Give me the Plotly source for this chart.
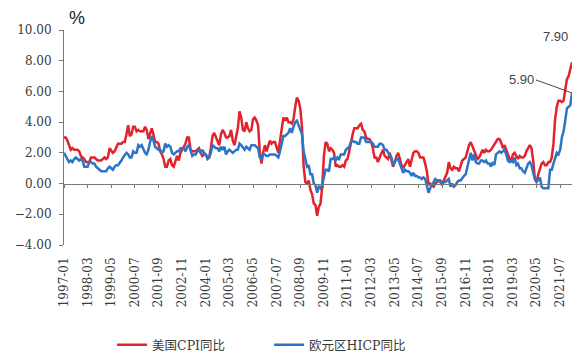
import plotly.graph_objects as go

us_cpi = [
    3.0, 3.0, 2.8, 2.5, 2.2, 2.3, 2.2, 2.2, 2.2, 2.1, 1.8, 1.7,
    1.6, 1.4, 1.4, 1.4, 1.7, 1.7, 1.7, 1.6, 1.5, 1.5, 1.5, 1.6,
    1.7, 1.6, 1.7, 2.3, 2.1, 2.0, 2.1, 2.3, 2.6, 2.6, 2.6, 2.7,
    2.7, 3.2, 3.8, 3.1, 3.2, 3.7, 3.7, 3.4, 3.5, 3.4, 3.4, 3.4,
    3.7, 3.5, 2.9, 3.3, 3.6, 3.2, 2.7, 2.7, 2.6, 2.1, 1.9, 1.6,
    1.1, 1.1, 1.5, 1.6, 1.2, 1.1, 1.5, 1.8, 1.5, 2.0, 2.2, 2.4,
    2.6, 3.0, 3.0, 2.2, 2.1, 2.1, 2.1, 2.2, 2.3, 2.0, 1.8, 1.9,
    1.9, 1.7, 1.7, 2.3, 3.1, 3.3, 3.0, 2.7, 2.5, 3.2, 3.5, 3.3,
    3.0, 3.0, 3.1, 3.5, 2.8, 2.5, 3.2, 3.6, 4.7, 4.3, 3.5, 3.4,
    4.0, 3.6, 3.4, 3.5, 4.2, 4.3, 4.1, 3.8, 2.1, 1.3, 2.0, 2.5,
    2.1, 2.4, 2.8, 2.6, 2.7, 2.7, 2.4, 2.0, 2.8, 3.5, 4.3, 4.1,
    4.3, 4.0, 4.0, 3.9, 4.2, 5.0, 5.6, 5.4, 4.9, 3.7, 1.1, 0.1,
    0.0, 0.2, -0.4, -0.7, -1.3, -1.4, -2.1, -1.5, -1.3, -0.2, 1.8, 2.7,
    2.6, 2.1, 2.3, 2.2, 2.0, 1.1, 1.2, 1.1, 1.1, 1.2, 1.1, 1.5,
    1.6, 2.1, 2.7, 3.2, 3.6, 3.6, 3.6, 3.8, 3.9, 3.5, 3.4, 3.0,
    2.9, 2.9, 2.7, 2.3, 1.7, 1.7, 1.4, 1.7, 2.0, 2.2, 1.8, 1.7,
    1.6, 2.0, 1.5, 1.1, 1.4, 1.8, 2.0, 1.5, 1.2, 1.0, 1.2, 1.5,
    1.6, 1.1, 1.5, 2.0, 2.1, 2.1, 2.0, 1.7, 1.7, 1.7, 1.3, 0.8,
    -0.1, 0.0, -0.1, -0.2, 0.0, 0.1, 0.2, 0.2, 0.0, 0.2, 0.5, 0.7,
    1.4, 1.0, 0.9, 1.1, 1.0, 1.0, 0.8, 1.1, 1.5, 1.6, 1.7, 2.1,
    2.5, 2.7, 2.4, 2.2, 1.9, 1.6, 1.7, 1.9, 2.2, 2.0, 2.2, 2.1,
    2.1, 2.2, 2.4, 2.5, 2.8, 2.9, 2.9, 2.7, 2.3, 2.5, 2.2, 1.9,
    1.6, 1.5, 1.9, 2.0, 1.8, 1.6, 1.8, 1.7, 1.7, 1.8, 2.1, 2.3,
    2.5, 2.3, 1.5, 0.3, 0.1, 0.6, 1.0, 1.3, 1.4, 1.2, 1.2, 1.4,
    1.4, 1.7, 2.6, 4.2, 5.0, 5.4, 5.4, 5.3, 5.4, 6.2, 6.8, 7.0,
    7.5, 7.9,
]

ez_hicp = [
    2.0, 1.8, 1.6, 1.4, 1.5, 1.4, 1.6, 1.7, 1.6, 1.5, 1.6, 1.5,
    1.1, 1.1, 1.1, 1.4, 1.4, 1.3, 1.3, 1.1, 1.0, 0.9, 0.8, 0.8,
    0.8, 0.8, 1.0, 1.1, 1.0, 0.9, 1.1, 1.2, 1.2, 1.4, 1.5, 1.7,
    1.9, 2.0, 1.9, 1.7, 1.7, 2.1, 2.0, 2.0, 2.5, 2.4, 2.5, 2.2,
    2.0, 1.9, 2.2, 2.7, 3.1, 2.8, 2.4, 2.3, 2.2, 2.2, 2.0, 2.1,
    2.6, 2.4, 2.5, 2.4, 2.0, 1.9, 2.0, 2.1, 2.1, 2.3, 2.3, 2.3,
    2.1, 2.4, 2.5, 2.1, 1.8, 1.9, 1.9, 2.1, 2.2, 2.0, 2.2, 2.0,
    1.9, 1.6, 1.7, 2.0, 2.5, 2.4, 2.3, 2.3, 2.1, 2.4, 2.2, 2.4,
    1.9, 2.1, 2.2, 2.1, 2.0, 2.1, 2.2, 2.2, 2.6, 2.5, 2.3, 2.2,
    2.4, 2.3, 2.2, 2.5, 2.5, 2.5, 2.4, 2.3, 1.7, 1.6, 1.9, 1.9,
    1.8, 1.8, 1.9, 1.9, 1.9, 1.9, 1.8, 1.7, 2.1, 2.6, 3.1, 3.1,
    3.2, 3.3, 3.6, 3.3, 3.7, 4.0, 4.1, 3.8, 3.6, 3.2, 2.1, 1.6,
    1.1, 1.2, 0.6, 0.6, 0.0, -0.1, -0.6, -0.2, -0.3, -0.1, 0.5, 0.9,
    0.9, 0.8, 1.6, 1.6, 1.7, 1.5, 1.7, 1.6, 1.9, 1.9, 1.9, 2.2,
    2.3, 2.4, 2.7, 2.8, 2.7, 2.7, 2.6, 2.6, 3.0, 3.0, 3.0, 2.7,
    2.7, 2.7, 2.7, 2.6, 2.4, 2.4, 2.4, 2.6, 2.6, 2.5, 2.2, 2.2,
    2.0, 1.8, 1.7, 1.2, 1.4, 1.6, 1.6, 1.3, 1.1, 0.7, 0.9, 0.8,
    0.8, 0.7, 0.5, 0.7, 0.5, 0.5, 0.4, 0.4, 0.3, 0.4, 0.3, -0.2,
    -0.6, -0.3, -0.1, 0.2, 0.3, 0.2, 0.2, 0.1, -0.1, 0.1, 0.1, 0.2,
    0.3, -0.2, 0.0, -0.2, -0.1, 0.1, 0.2, 0.2, 0.4, 0.5, 0.6, 1.1,
    1.7, 2.0, 1.5, 1.9, 1.4, 1.3, 1.3, 1.5, 1.5, 1.4, 1.5, 1.3,
    1.3, 1.1, 1.4, 1.2, 1.9, 2.0, 2.1, 2.0, 2.1, 2.2, 1.9, 1.5,
    1.4, 1.5, 1.4, 1.7, 1.2, 1.3, 1.0, 1.0, 0.8, 0.7, 1.0, 1.3,
    1.4, 1.2, 0.7, 0.3, 0.1, 0.3, 0.4, -0.2, -0.3, -0.3, -0.3, -0.3,
    0.9, 0.9, 1.3, 1.6, 2.0, 1.9, 2.2, 3.0, 3.4, 4.1, 4.9, 5.0,
    5.1, 5.9,
]

months = [f"{1997 + i // 12}-{i % 12 + 1:02d}" for i in range(len(us_cpi))]
tick_labels = months[::14]
y_ticks = [-4, -2, 0, 2, 4, 6, 8, 10]

RED = "#e3232b"
BLUE = "#2b74c6"
SERIF = "DejaVu Serif, Noto Sans CJK SC"
TXT = "#3a3a3a"

fig = go.Figure()
fig.add_trace(go.Scatter(x=months, y=us_cpi, mode="lines", name="美国CPI同比",
                         line=dict(color=RED, width=2.5)))
fig.add_trace(go.Scatter(x=months, y=ez_hicp, mode="lines", name="欧元区HICP同比",
                         line=dict(color=BLUE, width=2.5)))

y_min, y_max = -4, 10
fig.update_layout(
    width=585, height=353,
    margin=dict(l=64, r=13, t=30, b=108),
    paper_bgcolor="white", plot_bgcolor="white",
    font=dict(family=SERIF, color=TXT),
    xaxis=dict(type="category", range=[0, len(months) - 1],
               tickmode="array", tickvals=tick_labels, ticktext=tick_labels,
               tickangle=-90, tickfont=dict(size=12, family=SERIF, color=TXT),
               ticklabelstandoff=9,
               showline=False, showgrid=False, zeroline=False, ticks=""),
    xaxis2=dict(type="category", matches="x", overlaying="x", anchor="free",
                position=(0 - y_min) / (y_max - y_min),
                tickmode="array", tickvals=tick_labels, showticklabels=False,
                showline=True, linecolor="#777", linewidth=1,
                ticks="outside", ticklen=3, tickcolor="#777",
                showgrid=False, zeroline=False),
    yaxis=dict(range=[y_min, y_max], tickmode="array", tickvals=y_ticks,
               tickformat=".2f", tickfont=dict(size=12, family=SERIF, color=TXT),
               ticklabelstandoff=5,
               showline=True, linecolor="#777", linewidth=1,
               ticks="outside", ticklen=4, tickcolor="#777",
               showgrid=False, zeroline=False),
    legend=dict(orientation="h", xref="container", yref="container",
                x=0.46, xanchor="center", y=0.022, yanchor="middle",
                entrywidth=112, tracegroupgap=0,
                font=dict(size=12.5, family=SERIF, color=TXT)),
    showlegend=True,
)

# associate a trace with xaxis2 so the zero-line axis is drawn
fig.add_trace(go.Scatter(x=[months[0]], y=[None], xaxis="x2", showlegend=False,
                         hoverinfo="skip", mode="lines"))

fig.add_annotation(x=months[-1], y=us_cpi[-1], text=f"{us_cpi[-1]:.2f}",
                   showarrow=False, xshift=-17, yshift=26,
                   font=dict(size=13, family="Liberation Sans", color="#444"))
fig.add_annotation(x=months[-1], y=ez_hicp[-1], text=f"{ez_hicp[-1]:.2f}",
                   showarrow=True, arrowhead=0, arrowwidth=1, arrowcolor="#444",
                   ax=-36, ay=-13, xanchor="right",
                   font=dict(size=13, family="Liberation Sans", color="#444"))
fig.add_annotation(xref="paper", yref="paper", x=0.005, y=1.0, text="%",
                   showarrow=False, xanchor="left", yanchor="bottom",
                   font=dict(size=18, family="Liberation Sans", color="#222"))

fig.write_html("out.html")
